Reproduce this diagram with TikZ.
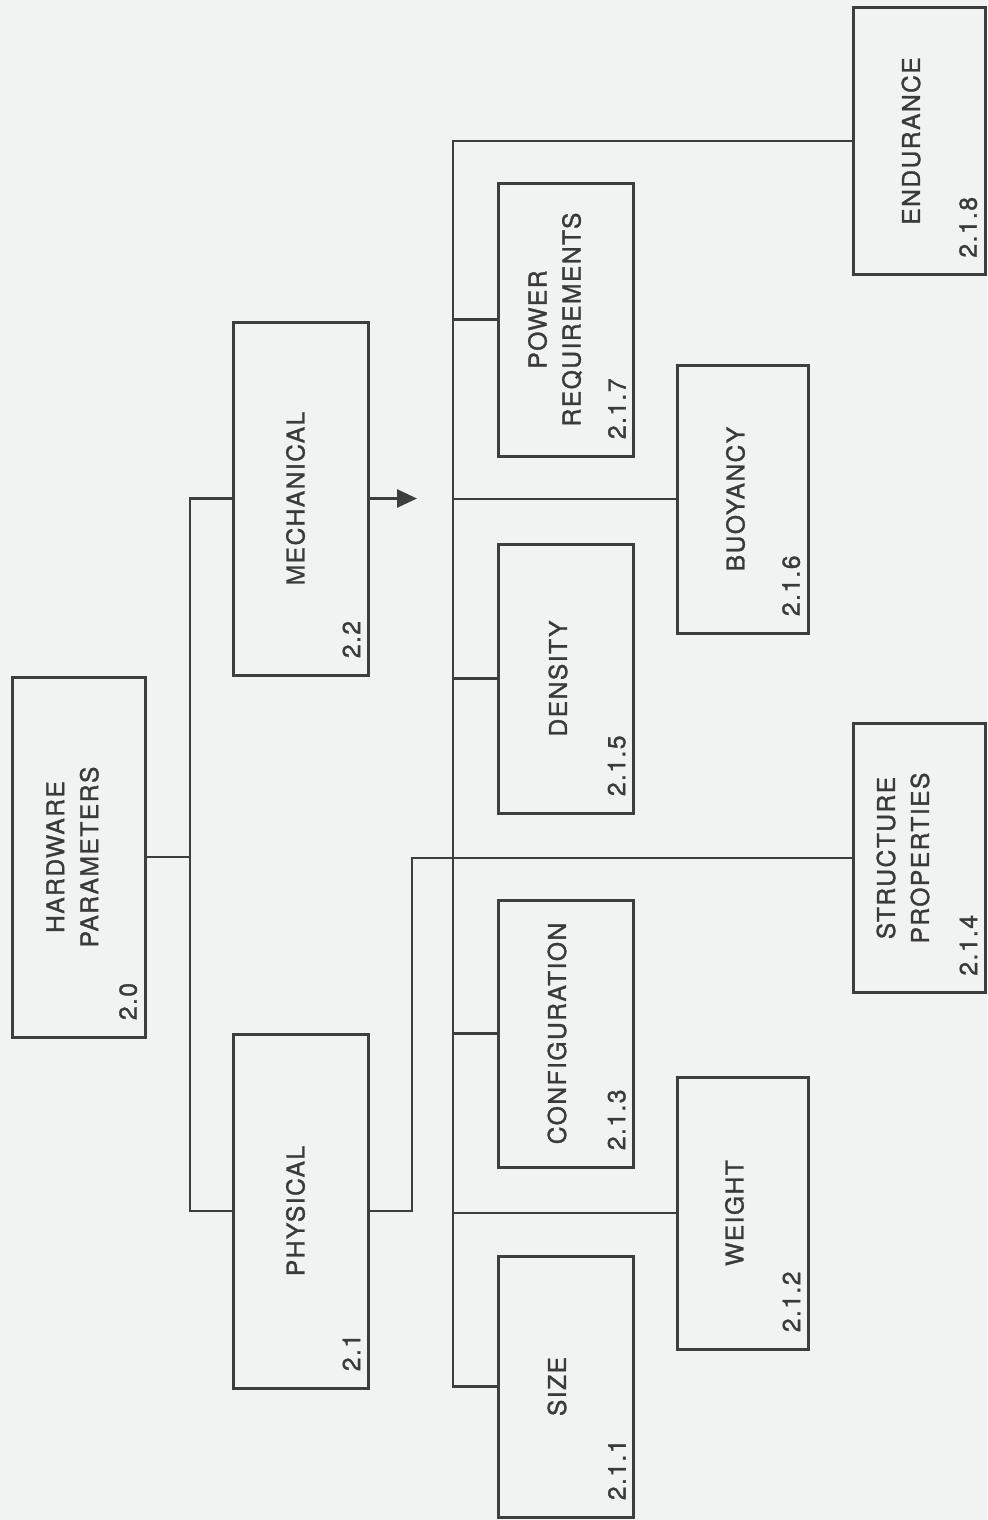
\documentclass[tikz,border=0pt]{standalone}
\usepackage{fontspec}
\setmainfont{TeX Gyre Heros}[LetterSpace=6, FakeBold=1.3]
\usetikzlibrary{arrows.meta}
\definecolor{bgcol}{HTML}{F1F2F2}
\definecolor{linecol}{HTML}{3E3E3E}
\definecolor{textcol}{HTML}{3A3A3A}
\tikzset{
  boxsty/.style={draw=linecol, line width=1.5pt, rectangle, inner sep=0pt},
  titlesty/.style={rotate=90, align=center, inner sep=0pt, text=textcol,
    font=\fontsize{12.3}{17}\selectfont},
  numsty/.style={rotate=90, anchor=south west, inner sep=0pt, text=textcol,
    font=\fontsize{12.3}{17}\selectfont},
  conn/.style={draw=linecol, line width=1.4pt},
}
\newcommand{\mybox}[8]{%
  \node[boxsty, minimum width=#4*0.5pt, minimum height=#5*0.5pt] (#1) at (#2,#3) {};
  \node[titlesty] (#1t) at ([xshift=#8*0.5pt]#1.center) {#6};
  \node[numsty] (#1n) at ([xshift=-4.5pt,yshift=9pt]#1.south east) {#7};
}
\begin{document}
\begin{tikzpicture}[x=0.5pt,y=-0.5pt]
\fill[bgcol] (0,0) rectangle (987,1520);
\useasboundingbox (0,0) rectangle (987,1520);

\mybox{hp}{78.5}{857}{133}{360}{HARDWARE\\PARAMETERS}{2.0}{-6}
\mybox{mech}{300.5}{498.5}{135}{353}{MECHANICAL}{2.2}{-5}
\mybox{phys}{300.5}{1211}{135}{354}{PHYSICAL}{2.1}{-5}
\mybox{size}{566}{1386.5}{135}{261}{SIZE}{2.1.1}{-9}
\mybox{weight}{742.5}{1213}{131}{272}{WEIGHT}{2.1.2}{-8}
\mybox{config}{566}{1033.5}{135}{267}{CONFIGURATION}{2.1.3}{-9}
\mybox{struct}{919}{858}{132}{269}{STRUCTURE\\PROPERTIES}{2.1.4}{-16}
\mybox{density}{566}{678.5}{135}{269}{DENSITY}{2.1.5}{-8}
\mybox{buoy}{742.5}{499}{131}{268}{BUOYANCY}{2.1.6}{-7}
\mybox{power}{566}{319.5}{135}{273}{POWER\\REQUIREMENTS}{2.1.7}{-11}
\mybox{endur}{919}{141}{132}{267}{ENDURANCE}{2.1.8}{-8}

\coordinate (busA) at (190,857);
\coordinate (busB) at (412,0);
\coordinate (busC) at (453,0);
\coordinate (arrtip) at (417,498.5);

% top level
\draw[conn] (hp.east) -- (busA);
\draw[conn] (mech.west) -| (busA) |- (phys.west);
% mechanical arrow
\draw[conn, -{Triangle[length=10pt,width=9pt]}] (mech.east) -- (arrtip);
% physical to structure properties
\draw[conn] (phys.east) -| (busB |- struct.west) -- (struct.west);
% main bus
\draw[conn] (endur.west) -| (busC |- size.west) -- (size.west);
\draw[conn] (busC |- power.west) -- (power.west);
\draw[conn] (busC |- buoy.west) -- (buoy.west);
\draw[conn] (busC |- density.west) -- (density.west);
\draw[conn] (busC |- config.west) -- (config.west);
\draw[conn] (busC |- weight.west) -- (weight.west);
\end{tikzpicture}
\end{document}
